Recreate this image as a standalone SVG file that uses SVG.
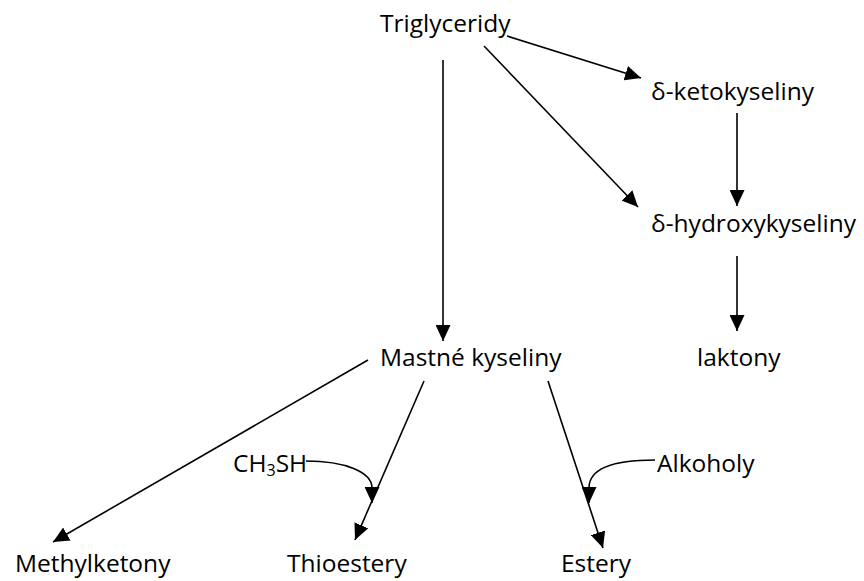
<svg xmlns="http://www.w3.org/2000/svg" width="864" height="581" viewBox="0 0 864 581">
<style>
text{font-family:"Open Sans","Noto Sans",sans-serif;font-size:24.5px;fill:#000}
.c{stroke:#000;stroke-width:1.6;fill:none}
</style>
<defs>
<marker id="a" markerUnits="userSpaceOnUse" markerWidth="17" markerHeight="15" refX="16" refY="7.5" orient="auto">
<path d="M0,0 L16,7.5 L0,15 Z" fill="#000"/>
</marker>
</defs>
<rect width="864" height="581" fill="#fff"/>
<g id="connectors">
<line class="c" x1="507" y1="36" x2="641" y2="78" marker-end="url(#a)"/>
<line class="c" x1="484" y1="46" x2="638" y2="207" marker-end="url(#a)"/>
<line class="c" x1="443" y1="60" x2="443" y2="341" marker-end="url(#a)"/>
<line class="c" x1="737" y1="113" x2="737" y2="206" marker-end="url(#a)"/>
<line class="c" x1="737" y1="256" x2="737" y2="331" marker-end="url(#a)"/>
<line class="c" x1="368" y1="360" x2="53" y2="542" marker-end="url(#a)"/>
<line class="c" x1="424" y1="381" x2="355" y2="540" marker-end="url(#a)"/>
<line class="c" x1="548" y1="381" x2="603" y2="548" marker-end="url(#a)"/>
<path class="c" d="M306,461 C345,461 372,472 372,488 L372,503" marker-end="url(#a)"/>
<path class="c" d="M655,460 C620,460 589,466 589,488 L589,503" marker-end="url(#a)"/>
</g>
<g id="triglyceridy"><text x="380" y="32">Triglyceridy</text></g>
<g id="ketokyseliny"><text x="651" y="100">δ-ketokyseliny</text></g>
<g id="hydroxykyseliny"><text x="651" y="232">δ-hydroxykyseliny</text></g>
<g id="laktony"><text x="697" y="366">laktony</text></g>
<g id="mastne"><text x="380" y="366">Mastné kyseliny</text></g>
<g id="methylketony"><text x="15" y="572">Methylketony</text></g>
<g id="thioestery"><text x="287" y="572">Thioestery</text></g>
<g id="estery"><text x="561" y="572">Estery</text></g>
<g id="ch3sh"><text x="233" y="472">CH<tspan font-size="16" dy="4">3</tspan><tspan dy="-4">SH</tspan></text></g>
<g id="alkoholy"><text x="657" y="472">Alkoholy</text></g>
</svg>
